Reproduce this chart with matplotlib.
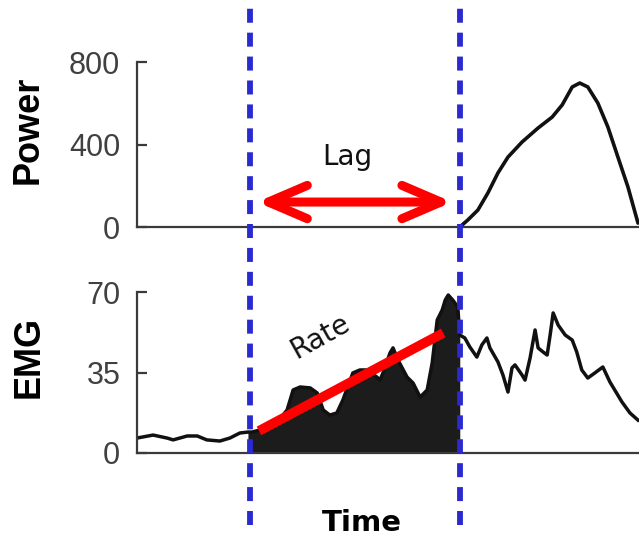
import numpy as np
import matplotlib
matplotlib.use("Agg")
import matplotlib.pyplot as plt
from matplotlib.patches import FancyArrowPatch

# ---- data (time in arbitrary units 0..100) ----
power_t = [64.3, 65.9, 67.9, 69.9, 71.9, 73.9, 76.7, 79.9, 82.7, 84.7, 86.7,
           88.2, 89.8, 91.8, 93.8, 95.8, 97.8, 99.8]
power_v = [0, 34, 82, 165, 262, 339, 412, 480, 533, 592, 679,
           698, 679, 601, 485, 339, 194, 19]

emg_t = [0.0, 3.2, 6.0, 7.2, 10.0, 12.0, 13.9, 16.5, 18.5, 20.5, 22.1, 22.9, 24.5,
         27.1, 29.9, 31.1, 32.5, 34.5, 35.9, 37.1, 38.4, 39.8, 41.0, 43.0, 44.4,
         45.8, 47.8, 48.4, 49.0, 50.4, 51.0, 52.0, 53.8, 55.0, 56.4, 57.8, 58.8,
         59.8, 60.8, 61.4, 62.0, 62.9, 63.9, 64.3, 65.3, 66.3, 67.7, 68.7, 69.7,
         70.3, 71.9, 72.9, 73.9, 74.7, 75.3, 76.7, 77.3, 78.3, 79.3, 79.9, 80.9,
         81.7, 82.3, 82.9, 83.9, 85.3, 86.7, 87.6, 88.6, 89.8, 91.2, 92.8, 94.2,
         96.6, 98.2, 99.8]
emg_v = [6.5, 7.8, 6.5, 5.7, 7.4, 7.4, 5.7, 5.2, 6.5, 8.7, 9.1, 9.1, 10.0,
         11.3, 18.7, 27.4, 28.7, 28.3, 26.1, 18.7, 16.5, 17.4, 23.0, 34.8, 36.1,
         36.1, 33.0, 31.7, 34.8, 43.5, 45.7, 40.4, 33.0, 30.4, 24.3, 27.4, 39.1,
         57.8, 62.2, 66.5, 68.7, 66.5, 63.5, 51.3, 50.0, 46.1, 41.7, 47.0, 50.0,
         45.7, 39.6, 33.9, 26.5, 37.0, 38.3, 33.9, 31.7, 41.3, 53.5, 45.7, 43.9,
         42.6, 51.3, 60.9, 55.6, 51.3, 49.1, 43.9, 36.1, 32.6, 34.8, 37.4, 30.9,
         22.2, 17.4, 14.3]

onset_t = [22.5, 64.3]          # blue dashed markers
lag_t = [23.9, 62.8]            # red double arrow span
lag_y = 121
rate_t = [24.3, 61.0]
rate_v = [9.6, 52.2]

power_ticks = [0, 400, 800]
emg_ticks = [0, 35, 70]

# ---- figure ----
W, H = 639, 546
fig = plt.figure(figsize=(W / 100, H / 100), dpi=100)

def px_axes(l, t, r, b):
    return [l / W, 1 - b / H, (r - l) / W, (b - t) / H]

ax1 = fig.add_axes(px_axes(137, 62, 639, 227))
ax2 = fig.add_axes(px_axes(137, 292, 639, 453))

spine_c = "#3a3a3a"
for ax, ticks, ylim in [(ax1, power_ticks, (0, 800)), (ax2, emg_ticks, (0, 70))]:
    ax.patch.set_visible(False)
    ax.set_xlim(0, 100)
    ax.set_ylim(*ylim)
    for s in ["top", "right"]:
        ax.spines[s].set_visible(False)
    for s in ["left", "bottom"]:
        ax.spines[s].set_color(spine_c)
        ax.spines[s].set_linewidth(1.6)
    ax.set_xticks([])
    ax.set_yticks(ticks)
    ax.tick_params(axis="y", direction="in", length=7, width=1.6, color=spine_c,
                   pad=12, labelsize=22, labelcolor="#404040")
    for lbl in ax.get_yticklabels():
        lbl.set_fontfamily("Liberation Sans")

# power
ax1.plot(power_t, power_v, color="#111111", lw=2.6, solid_capstyle="round",
         solid_joinstyle="round")

# emg
t = np.array(emg_t)
v = np.array(emg_v)
mask = (t >= onset_t[0] - 0.5) & (t <= onset_t[1])
ax2.fill_between(t, 0, v, where=mask, color="#1c1c1c", lw=0)
ax2.plot(t, v, color="#111111", lw=2.5, solid_joinstyle="round")

# rate line
ax2.plot(rate_t, rate_v, color="#ff0000", lw=7, solid_capstyle="butt", zorder=5)
ax2.text(36.5, 50.4, "Rate", rotation=29, ha="center", va="center",
         fontsize=20, family="DejaVu Sans", color="#111111")

# lag arrow
arr = FancyArrowPatch((lag_t[0], lag_y), (lag_t[1], lag_y),
                      arrowstyle="<->,head_length=28,head_width=12",
                      mutation_scale=1, shrinkA=0, shrinkB=0,
                      color="#ff0000", lw=6.5,
                      capstyle="round", joinstyle="round")
ax1.add_patch(arr)
ax1.text(41.8, 340, "Lag", ha="center", va="center", fontsize=20,
         family="DejaVu Sans", color="#111111")

# blue dashed onset lines, spanning both panels
for x in onset_t:
    ax2.axvline(x, ymin=(453 - 525) / 161, ymax=(453 - 8) / 161, clip_on=False,
                color="#2a2ad0", lw=4.2, dashes=(2.4, 1.7), zorder=10)

# labels
fig.text(28 / W, 1 - 130 / H, "Power", rotation=90, ha="center", va="center",
         fontsize=26, fontweight="bold", family="Liberation Sans")
fig.text(29 / W, 1 - 357 / H, "EMG", rotation=90, ha="center", va="center",
         fontsize=26, fontweight="bold", family="Liberation Sans")
fig.text(362 / W, 1 - 523 / H, "Time", ha="center", va="center",
         fontsize=21, fontweight="bold", family="DejaVu Sans")

fig.savefig("out.png", dpi=100)
